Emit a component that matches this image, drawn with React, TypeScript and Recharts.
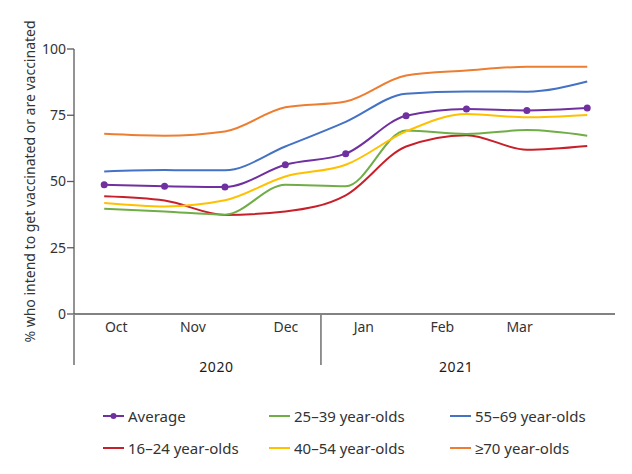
import React from "react";
import { LineChart, Line, XAxis, YAxis, Legend } from "recharts";

// survey waves, plotted by position 0..8
const waves = [0, 1, 2, 3, 4, 5, 6, 7, 8];

const average = [48.8, 48.2, 47.9, 56.3, 60.5, 74.8, 77.4, 76.8, 77.7];
const age16to24 = [44.4, 42.8, 37.4, 38.7, 44.8, 63.2, 67.5, 62.0, 63.4];
const age25to39 = [39.7, 38.7, 37.5, 48.8, 48.2, 69.2, 67.9, 69.4, 67.3];
const age40to54 = [41.9, 40.6, 42.9, 51.9, 56.3, 68.9, 75.5, 74.2, 75.1];
const age55to69 = [53.8, 54.3, 54.2, 63.2, 72.5, 83.1, 84.0, 83.9, 87.7];
const age70plus = [68.0, 67.3, 68.9, 78.0, 80.2, 90.0, 91.9, 93.3, 93.3];

const monthTicks = [0.2, 1.47, 3.01, 4.3, 5.6, 6.88];
const monthLabels = ["Oct", "Nov", "Dec", "Jan", "Feb", "Mar"];

const yearDividers = [-0.5, 3.59];
const yearTicks = [1.86, 5.83];
const yearLabels = ["2020", "2021"];

const yTicks = [0, 25, 50, 75, 100];
const yLabel = "% who intend to get vaccinated or are vaccinated";

const series = [
  { key: "avg", name: "Average", color: "#7030A0", values: average, dot: true },
  { key: "a16", name: "16\u201324 year-olds", color: "#C8202A", values: age16to24, dot: false },
  { key: "a25", name: "25\u201339 year-olds", color: "#70AD47", values: age25to39, dot: false },
  { key: "a40", name: "40\u201354 year-olds", color: "#FFC000", values: age40to54, dot: false },
  { key: "a55", name: "55\u201369 year-olds", color: "#4472C4", values: age55to69, dot: false },
  { key: "a70", name: "\u226570 year-olds", color: "#ED7D31", values: age70plus, dot: false },
];

const data = waves.map((w, i) => {
  const row: Record<string, number> = { wave: w };
  series.forEach((s) => {
    row[s.key] = s.values[i];
  });
  return row;
});

const FONT = "'Noto Sans', sans-serif";
const AXIS = "#595959";

function YearTick(props: any) {
  const { x, y, payload } = props;
  const v = payload.value;
  if (yearDividers.includes(v)) {
    return <line x1={x} y1={y} x2={x} y2={y + 50} stroke={AXIS} strokeWidth={1.3} />;
  }
  const idx = yearTicks.indexOf(v);
  return (
    <text
      x={x}
      y={y + 53}
      textAnchor="middle"
      dominantBaseline="middle"
      fontFamily={FONT}
      fontSize={14}
      fill="#1a1a1a"
      letterSpacing={0.6}
    >
      {yearLabels[idx]}
    </text>
  );
}

function LegendContent(props: any) {
  const payload = props.payload || [];
  return (
    <div
      style={{
        display: "grid",
        gridTemplateColumns: "166px 181px auto",
        gridTemplateRows: "32px 32px",
        gridAutoFlow: "column",
        fontFamily: FONT,
        fontSize: 15,
        color: "#333",
      }}
    >
      {series.map((s) => {
        const p = payload.find((x: any) => x.value === s.name);
        const color = p ? p.color : s.color;
        return (
          <div key={s.key} style={{ display: "flex", alignItems: "center" }}>
            <svg width={21} height={10} style={{ marginRight: 4 }}>
              <line x1={0} y1={5} x2={21} y2={5} stroke={color} strokeWidth={2} />
              {s.dot ? <circle cx={10.5} cy={5} r={3} fill={color} /> : null}
            </svg>
            <span>{s.name}</span>
          </div>
        );
      })}
    </div>
  );
}

export default function App() {
  return (
    <LineChart
      width={616}
      height={458}
      data={data}
      margin={{ top: 41, right: 9, bottom: 150, left: 0 }}
    >
      <XAxis
        xAxisId="month"
        dataKey="wave"
        type="number"
        domain={[-0.5, 8.46]}
        ticks={monthTicks}
        interval={0}
        height={1}
        tickLine={false}
        axisLine={{ stroke: AXIS, strokeWidth: 1.3 }}
        tickFormatter={(v: number) => monthLabels[monthTicks.indexOf(v)]}
        tick={{ fill: "#333", fontSize: 14, fontFamily: FONT }}
      />
      <XAxis
        xAxisId="year"
        dataKey="wave"
        type="number"
        domain={[-0.5, 8.46]}
        ticks={[...yearDividers, ...yearTicks]}
        interval={0}
        height={1}
        tickSize={0}
        tickMargin={0}
        tickLine={false}
        axisLine={false}
        tick={<YearTick />}
      />
      <YAxis
        domain={[0, 100]}
        ticks={yTicks}
        width={66}
        tickSize={7}
        tickMargin={1}
        axisLine={{ stroke: AXIS, strokeWidth: 1.3 }}
        tickLine={{ stroke: AXIS, strokeWidth: 1.3 }}
        tick={{ fill: "#333", fontSize: 14, fontFamily: FONT }}
        label={{
          value: yLabel,
          angle: -90,
          position: "insideLeft",
          offset: 22,
          style: { textAnchor: "middle", fill: "#333", fontSize: 14, fontFamily: FONT },
        }}
      />
      {series.map((s) => (
        <Line
          key={s.key}
          xAxisId="month"
          type="monotone"
          dataKey={s.key}
          name={s.name}
          stroke={s.color}
          strokeWidth={2}
          dot={s.dot ? { r: 3.5, fill: s.color, stroke: s.color, strokeWidth: 0 } : false}
          activeDot={false}
          isAnimationActive={false}
        />
      ))}
      <Legend
        layout="horizontal"
        verticalAlign="middle"
        align="center"
        content={<LegendContent />}
        wrapperStyle={{ top: 392, left: 95, width: 520 }}
      />
    </LineChart>
  );
}
